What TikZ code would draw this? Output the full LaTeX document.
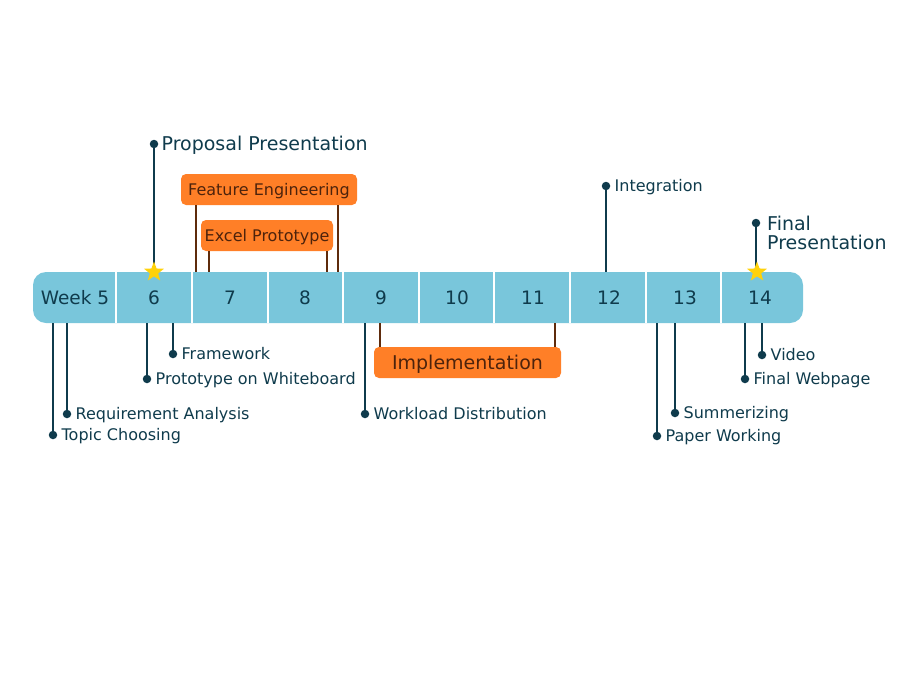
\documentclass[tikz,border=0pt]{standalone}
\usepackage{fontspec}
\setmainfont{DejaVu Sans}
\usepackage{tikz}
\usetikzlibrary{positioning,shapes.geometric}
\definecolor{barblue}{HTML}{79C6DB}
\definecolor{ink}{HTML}{0F3B4C}
\definecolor{taskorange}{HTML}{FF7F27}
\definecolor{taskink}{HTML}{4D230C}
\definecolor{spanbrown}{HTML}{5E2B0C}
\definecolor{stargold}{HTML}{FFD20A}

\begin{document}
\begin{tikzpicture}[x=1pt,y=-1pt,
    bar/.style={fill=barblue,rounded corners=13pt,minimum width=770pt,minimum height=51pt,inner sep=0pt},
    week/.style={text=ink,inner sep=0pt,text height=13.5pt,text depth=0pt,font=\fontsize{18.5}{20}\selectfont},
    pindot/.style={circle,fill=ink,inner sep=0pt,minimum size=8.5pt},
    pinline/.style={ink,line width=2pt},
    lbl/.style={text=ink,inner sep=0pt,text height=11.7pt,text depth=0pt,font=\fontsize{16}{18}\selectfont},
    biglbl/.style={lbl,text height=13.9pt,font=\fontsize{19}{19}\selectfont},
    task/.style={fill=taskorange,rounded corners=5pt,text=taskink,inner sep=0pt,minimum height=31pt,
      text height=11.7pt,text depth=0pt,font=\fontsize{16}{18}\selectfont},
    spanline/.style={spanbrown,line width=1.6pt},
    milestone/.style={star,star points=5,star point ratio=2.4,fill=stargold,inner sep=0pt,minimum size=21pt}]
  \path[use as bounding box] (0,0) rectangle (912,683);

  % week bar
  \node[bar] (bar) at (418,297.5) {};
  \foreach \x in {116,192,268,343,419,494,570,646,721}
    \draw[white,line width=1.8pt] (\x,272) -- (\x,323);
  \node[week] (w5) at (75,297.5) {Week 5};
  \foreach \w/\x in {6/154,7/230,8/305,9/381,10/457,11/533,12/609,13/685,14/760}
    \node[week] (w\w) at (\x,297.5) {\w};

  % tasks spanning weeks
  \node[task,minimum width=176pt] (fe) at (269,189.5) {Feature Engineering};
  \node[task,minimum width=132pt] (ep) at (267,235.5) {Excel Prototype};
  \node[task,minimum width=187pt,text height=13.9pt,font=\fontsize{19}{20}\selectfont] (im) at (467.5,362.5) {Implementation};
  \foreach \n/\l/\r in {fe/15/19,ep/8/6}{
    \coordinate (\n-l) at ([xshift=\l pt]\n.south west);
    \coordinate (\n-r) at ([xshift=-\r pt]\n.south east);
    \draw[spanline] (\n-l) -- (\n-l |- bar.north) (\n-r) -- (\n-r |- bar.north);
  }
  \coordinate (im-l) at ([xshift=6pt]im.north west);
  \coordinate (im-r) at ([xshift=-6pt]im.north east);
  \draw[spanline] (im-l) -- (im-l |- bar.south) (im-r) -- (im-r |- bar.south);

  % milestones above
  \node[pindot] (pp) at (154,144) {};
  \node[biglbl,right=3pt of pp] (pp-t) {Proposal Presentation};
  \node[pindot] (ig) at (606,186) {};
  \node[lbl,right=4pt of ig] (ig-t) {Integration};
  \node[pindot] (fp) at (756,223) {};
  \node[text=ink,inner sep=0pt,align=left,anchor=north west,font=\fontsize{19}{19}\selectfont] (fp-t) at (767,215.5) {Final\\Presentation};
  \foreach \n in {pp,ig,fp}
    \draw[pinline] (\n) -- (\n |- bar.north);
  \node[milestone] (s6) at (154,272) {};
  \node[milestone] (s14) at (757,272) {};

  % milestones below
  \foreach \n/\x/\y/\t in {tc/53/435/Topic Choosing,ra/67/414/Requirement Analysis,
      pw/147/379/Prototype on Whiteboard,fw/173/354/Framework,wd/365/414/Workload Distribution,
      pa/657/436/Paper Working,su/675/413/Summerizing,wb/745/379/Final Webpage,vd/762/355/Video}{
    \node[pindot] (\n) at (\x,\y) {};
    \node[lbl,right=4pt of \n] (\n-t) {\t};
    \draw[pinline] (\n) -- (\n |- bar.south);
  }
\end{tikzpicture}
\end{document}
